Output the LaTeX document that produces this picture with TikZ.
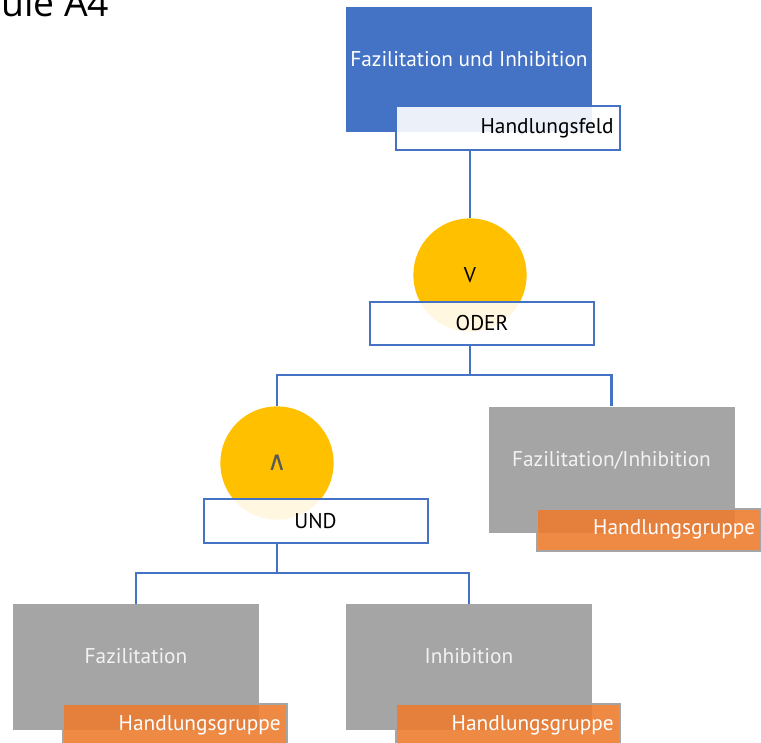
\documentclass[tikz,border=0pt]{standalone}
\usepackage{fontspec}
\setmainfont{PT Sans}
\newfontfamily\headfont{Open Sans}
\newfontfamily\symfont{DejaVu Sans}
\usepackage{tikz}
\usepackage{xcolor}
\usetikzlibrary{positioning, calc}

\definecolor{accblue}{HTML}{4472C4}
\definecolor{accgold}{HTML}{FFC000}
\definecolor{accgray}{HTML}{A5A5A5}
\definecolor{accorange}{HTML}{ED7D31}
\definecolor{symgray}{HTML}{595959}

\begin{document}
\begin{tikzpicture}[x=0.75pt, y=-0.75pt,
    every node/.style={font=\fontsize{16}{18}\selectfont},
    fieldbox/.style={rectangle, fill=accblue, text=white, minimum width=184.5pt, minimum height=93.75pt, text height=11pt, text depth=16pt},
    groupbox/.style={rectangle, fill=accgray, text=white!95!black, minimum width=184.5pt, minimum height=94.5pt, text height=11pt, text depth=16pt},
    feldtag/.style={rectangle, draw=accblue, line width=1.5pt, fill=white, fill opacity=0.9, text opacity=1, text width=159pt, inner xsep=4.5pt, align=right, minimum height=33pt},
    grouptag/.style={rectangle, draw=accgray, line width=1.5pt, fill=accorange, fill opacity=0.9, text opacity=1, text=white, text width=159pt, inner xsep=4.5pt, align=right, minimum height=31.5pt},
    gate/.style={circle, fill=accgold, minimum size=85pt, inner sep=0pt},
    gatetag/.style={rectangle, draw=accblue, line width=1.5pt, fill=white, fill opacity=0.88, text opacity=1, minimum width=168pt, minimum height=32.5pt},
    link/.style={draw=accblue, line width=2pt}
]
    \useasboundingbox (0,0) rectangle (761,743);

    % =========================================================
    % PAGE HEADING (CUT AT THE TOP EDGE)
    % =========================================================
    \node[anchor=base west, inner sep=0pt, font=\headfont\fontsize{28}{30}\selectfont] (heading) at (1,16) {ule A4};

    % =========================================================
    % TOP LEVEL: HANDLUNGSFELD
    % =========================================================
    \node[fieldbox] (field) at (469,69.5) {Fazilitation und Inhibition};
    \node[feldtag, anchor=north west] (fieldtag) at ($(field.south west)+(49,-27)$) {Handlungsfeld};

    % =========================================================
    % OR GATE
    % =========================================================
    \node[gate] (orgate) at (470,275) {V};
    \node[gatetag] (orbox) at (482,323.5) {ODER};

    % =========================================================
    % AND GATE AND GROUPS
    % =========================================================
    \node[gate, text=symgray] (andgate) at (277,463) {\symfont\fontsize{20}{22}\selectfont ∧};
    \node[gatetag] (andbox) at (315.5,521) {UND};

    \node[groupbox] (facinh) at (611.5,469.5) {Fazilitation/Inhibition};
    \node[grouptag, anchor=north west] (facinhtag) at ($(facinh.south west)+(48,-25)$) {Handlungsgruppe};

    \node[groupbox] (fac) at (136,667) {Fazilitation};
    \node[grouptag, anchor=north west] (factag) at ($(fac.south west)+(49,-27)$) {Handlungsgruppe};

    \node[groupbox] (inh) at (469,667) {Inhibition};
    \node[grouptag, anchor=north west] (inhtag) at ($(inh.south west)+(49,-27)$) {Handlungsgruppe};

    % =========================================================
    % CONNECTORS
    % =========================================================
    \coordinate (orjoint) at (470,375);
    \coordinate (andjoint) at (277,573);
    \draw[link] (fieldtag.south -| orgate) -- (orgate.north);
    \draw[link] (orbox.south -| orgate) -- (orjoint);
    \draw[link] (andgate.north) |- (orjoint) -| (facinh.north);
    \draw[link] (andbox.south -| andgate) -- (andjoint);
    \draw[link] (fac.north) |- (andjoint) -| (inh.north);
\end{tikzpicture}
\end{document}
